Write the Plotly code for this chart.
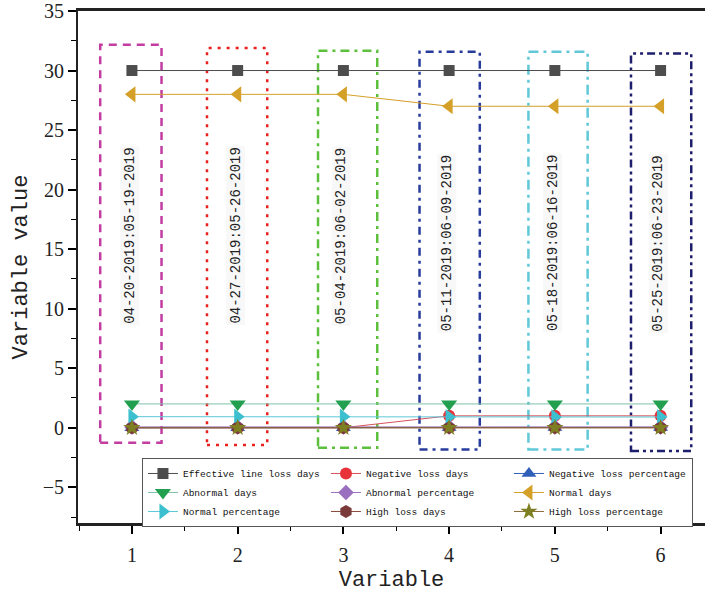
import plotly.graph_objects as go

# ---- data ----
x_vals = [1, 2, 3, 4, 5, 6]
series_names = [
    "Effective line loss days", "Negative loss days", "Negative loss percentage",
    "Abnormal days", "Abnormal percentage", "Normal days",
    "Normal percentage", "High loss days", "High loss percentage",
]
effective_days = [30, 30, 30, 30, 30, 30]
negative_days = [0, 0, 0, 1, 1, 1]
negative_pct = [0, 0, 0, 0.03, 0.03, 0.03]
abnormal_days = [2, 2, 2, 2, 2, 2]
abnormal_pct = [0.07, 0.07, 0.07, 0.07, 0.07, 0.07]
normal_days = [28, 28, 28, 27, 27, 27]
normal_pct = [0.93, 0.93, 0.93, 0.9, 0.9, 0.9]
high_days = [0, 0, 0, 0, 0, 0]
high_pct = [0, 0, 0, 0, 0, 0]

period_labels = [
    "04-20-2019:05-19-2019", "04-27-2019:05-26-2019", "05-04-2019:06-02-2019",
    "05-11-2019:06-09-2019", "05-18-2019:06-16-2019", "05-25-2019:06-23-2019",
]

# annotation box extents (data units)
box_x0 = [0.70, 1.71, 2.76, 3.72, 4.75, 5.72]
box_x1 = [1.28, 2.28, 3.32, 4.29, 5.31, 6.29]
box_y0 = [-1.26, -1.45, -1.68, -1.82, -1.82, -1.96]
box_y1 = [32.16, 31.90, 31.66, 31.57, 31.57, 31.43]
label_y = [16.1, 16.1, 16.1, 15.5, 15.5, 15.5]

# ---- styles ----
all_values = [effective_days, negative_days, negative_pct, abnormal_days, abnormal_pct,
              normal_days, normal_pct, high_days, high_pct]
symbols = ["square", "circle", "triangle-up", "triangle-down", "diamond",
           "triangle-left", "triangle-right", "hexagon", "star"]
marker_colors = ["#4D4D4D", "#E8323A", "#2F5FB8", "#22A050", "#9B6FC0",
                 "#D4A028", "#3CC0D0", "#7A3A3A", "#7E7E22"]
line_colors = ["#4D4D4D", "#D8505A", "#2F5FB8", "#7FC0A8", "#9B6FC0",
               "#D4A028", "#5CC8D8", "#8A4A3A", "#8A6A3A"]
marker_sizes = [11, 12, 13, 14, 12, 14, 14, 13, 13]

box_colors = ["#C23CA2", "#E8201E", "#5CC03C", "#283C9C", "#60C8D8", "#1E1E6E"]
box_dash = ["8px,6px", "3px,6px", "9px,5px,3px,5px", "8px,5px,3px,5px",
            "10px,5px,3px,5px", "8px,4px,3px,4px,3px,4px"]

fig = go.Figure()

for name, vals, sym, mc, lc, ms in zip(series_names, all_values, symbols,
                                       marker_colors, line_colors, marker_sizes):
    fig.add_trace(go.Scatter(
        x=x_vals, y=vals, name=name, mode="lines+markers",
        line=dict(color=lc, width=1),
        marker=dict(symbol=sym, color=mc, size=ms, line=dict(width=0)),
    ))

for i in range(len(x_vals)):
    fig.add_shape(type="rect", xref="x", yref="y",
                  x0=box_x0[i], x1=box_x1[i], y0=box_y0[i], y1=box_y1[i],
                  line=dict(color=box_colors[i], width=2.5, dash=box_dash[i]),
                  fillcolor="rgba(0,0,0,0)", layer="below")
    fig.add_annotation(x=x_vals[i] - 0.02, y=label_y[i], xref="x", yref="y",
                       text=period_labels[i], showarrow=False, textangle=-90,
                       font=dict(family="Liberation Mono", size=14, color="#222222"),
                       bgcolor="#F8F8F8")

fig.update_layout(
    width=705, height=598,
    margin=dict(l=78, r=0, t=11, b=75, autoexpand=False),
    paper_bgcolor="white", plot_bgcolor="white",
    showlegend=True,
    legend=dict(
        orientation="h", x=0.102, y=0.127, xanchor="left", yanchor="top",
        font=dict(family="Liberation Mono", size=9.5, color="#111111"),
        bordercolor="#555555", borderwidth=1, bgcolor="white",
        itemwidth=30, tracegroupgap=0, entrywidth=138, entrywidthmode="pixels",
    ),
    xaxis=dict(
        range=[0.49, 6.42], tickvals=x_vals, ticks="outside", ticklen=8, tickwidth=1.5,
        tickcolor="black", showline=True, linewidth=3, linecolor="#222222", mirror=True,
        showgrid=False, zeroline=False, automargin=False,
        minor=dict(dtick=0.5, tick0=0.5, ticks="outside", ticklen=5, tickwidth=1, tickcolor="black"),
        tickfont=dict(family="Liberation Serif", size=20, color="#222222"),
        title=dict(text="Variable", font=dict(family="Liberation Mono", size=22, color="#222222"),
                   standoff=6),
        ticklabelstandoff=4,
    ),
    yaxis=dict(
        range=[-8, 35], dtick=5, ticks="outside", ticklen=8, tickwidth=1.5,
        tickcolor="black", showline=True, linewidth=2, linecolor="#222222", mirror=False,
        showgrid=False, zeroline=False, automargin=False, ticklabeloverflow="allow",
        minor=dict(dtick=2.5, ticks="outside", ticklen=5, tickwidth=1, tickcolor="black"),
        tickfont=dict(family="Liberation Serif", size=20, color="#222222"),
        title=dict(text="Variable value", font=dict(family="Liberation Mono", size=22, color="#222222"),
                   standoff=9),
    ),
)

fig.write_html("out.html", config={"displayModeBar": False},
               post_script="document.body.style.margin='0';")
